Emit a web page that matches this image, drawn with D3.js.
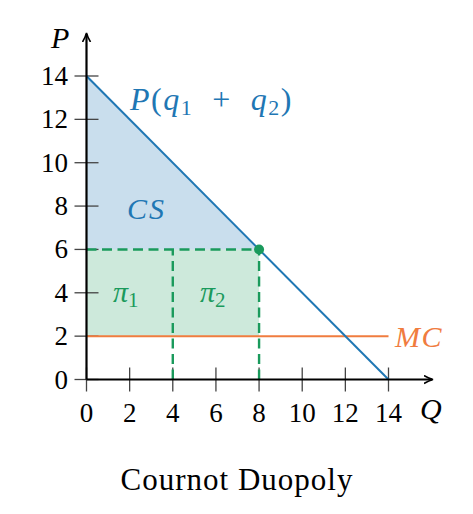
<!DOCTYPE html>
<meta charset="utf-8">
<style>
body { margin: 0; background: #fff; }
text { font-family: "Liberation Serif", "DejaVu Serif", serif; }
</style>
<svg width="473" height="514"></svg>
<script src="https://cdn.jsdelivr.net/npm/d3@7"></script>
<script>
// data
var ticks = [0, 2, 4, 6, 8, 10, 12, 14];
var demand = [[0, 14], [14, 0]];
var mcLine = [[0, 2], [14, 2]];
var csArea = [[0, 14], [8, 6], [0, 6]];
var profitArea = [[0, 2], [8, 2], [8, 6], [0, 6]];
var dashes = [[[0, 6], [8, 6]], [[4, 0], [4, 6]], [[8, 0], [8, 6]]];
var eq = [8, 6];

var blue = "#1f77b4", green = "#1a9a5c", orange = "#f07c3f";

var svg = d3.select("svg");
var x = d3.scaleLinear().domain([0, 14]).range([86.5, 388.5]);
var y = d3.scaleLinear().domain([0, 14]).range([379.5, 76]);
var line = d3.line().x(function(d) { return x(d[0]); }).y(function(d) { return y(d[1]); });

svg.append("defs").append("marker")
    .attr("id", "arr").attr("viewBox", "0 0 10 10").attr("refX", 8).attr("refY", 5)
    .attr("markerWidth", 10).attr("markerHeight", 10).attr("markerUnits", "userSpaceOnUse")
    .attr("orient", "auto")
  .append("path").attr("d", "M0,1 Q5,4 9,5 Q5,6 0,9").attr("fill", "none")
    .attr("stroke", "#000").attr("stroke-width", 1.6);

// areas
svg.append("path").attr("d", line(csArea) + "Z").attr("fill", blue).attr("fill-opacity", 0.24);
svg.append("path").attr("d", line(profitArea) + "Z").attr("fill", green).attr("fill-opacity", 0.22);

// ticks
var g = svg.append("g").attr("stroke", "#444").attr("stroke-width", 1.3);
ticks.forEach(function(t) {
  g.append("line").attr("x1", x(t)).attr("x2", x(t)).attr("y1", y(0) - 12).attr("y2", y(0) + 12);
  g.append("line").attr("y1", y(t)).attr("y2", y(t)).attr("x1", x(0) - 12).attr("x2", x(0) + 12);
});

// MC line
svg.append("path").attr("d", line(mcLine)).attr("stroke", orange).attr("stroke-width", 2).attr("fill", "none");

// dashed
dashes.forEach(function(d) {
  svg.append("path").attr("d", line(d)).attr("stroke", green).attr("stroke-width", 2.4)
    .attr("stroke-dasharray", "10,5.5").attr("fill", "none");
});

// demand
svg.append("path").attr("d", line(demand)).attr("stroke", blue).attr("stroke-width", 2).attr("fill", "none");

// axes
svg.append("line").attr("x1", x(0)).attr("y1", y(0)).attr("x2", 432).attr("y2", y(0))
  .attr("stroke", "#000").attr("stroke-width", 2.2).attr("marker-end", "url(#arr)");
svg.append("line").attr("x1", x(0)).attr("y1", y(0)).attr("x2", x(0)).attr("y2", 34)
  .attr("stroke", "#000").attr("stroke-width", 2.2).attr("marker-end", "url(#arr)");

svg.append("circle").attr("cx", x(eq[0])).attr("cy", y(eq[1])).attr("r", 5).attr("fill", green);

// tick labels
ticks.forEach(function(t) {
  svg.append("text").attr("x", x(t)).attr("y", 422).attr("text-anchor", "middle")
    .attr("font-size", 27).text(t);
  svg.append("text").attr("x", 68).attr("y", y(t) + 9).attr("text-anchor", "end")
    .attr("font-size", 27).text(t);
});

function lbl(tx, ty, s, col, anchor) {
  return svg.append("text").attr("x", tx).attr("y", ty).attr("font-size", 30)
    .attr("font-style", "italic").attr("fill", col).attr("text-anchor", anchor || "start").text(s);
}
lbl(51, 48, "P", "#000");
lbl(420, 419, "Q", "#000");
var pl = lbl(130, 110, "", blue).attr("font-size", 32);
pl.append("tspan").text("P");
pl.append("tspan").attr("font-style", "normal").text("(");
pl.append("tspan").text("q");
pl.append("tspan").attr("font-size", 22).attr("dy", 5).attr("font-style", "normal").text("1");
pl.append("tspan").attr("dy", -5).attr("font-style", "normal").attr("xml:space", "preserve").text("  +  ");
pl.append("tspan").text("q");
pl.append("tspan").attr("font-size", 22).attr("dy", 5).attr("font-style", "normal").text("2");
pl.append("tspan").attr("dy", -5).attr("font-style", "normal").text(")");
pl.attr("letter-spacing", 1.5);
lbl(127, 219, "CS", blue).attr("letter-spacing", 2);
lbl(395, 347, "MC", orange).attr("letter-spacing", 1.5);
[[113, "1"], [200, "2"]].forEach(function(p) {
  var t = lbl(p[0], 302, "π", green);
  t.append("tspan").attr("font-size", 21).attr("dy", 5).attr("font-style", "normal").text(p[1]);
});

svg.append("text").attr("x", 237).attr("y", 490).attr("text-anchor", "middle")
  .attr("font-size", 31).attr("letter-spacing", 1).text("Cournot Duopoly");
</script>
